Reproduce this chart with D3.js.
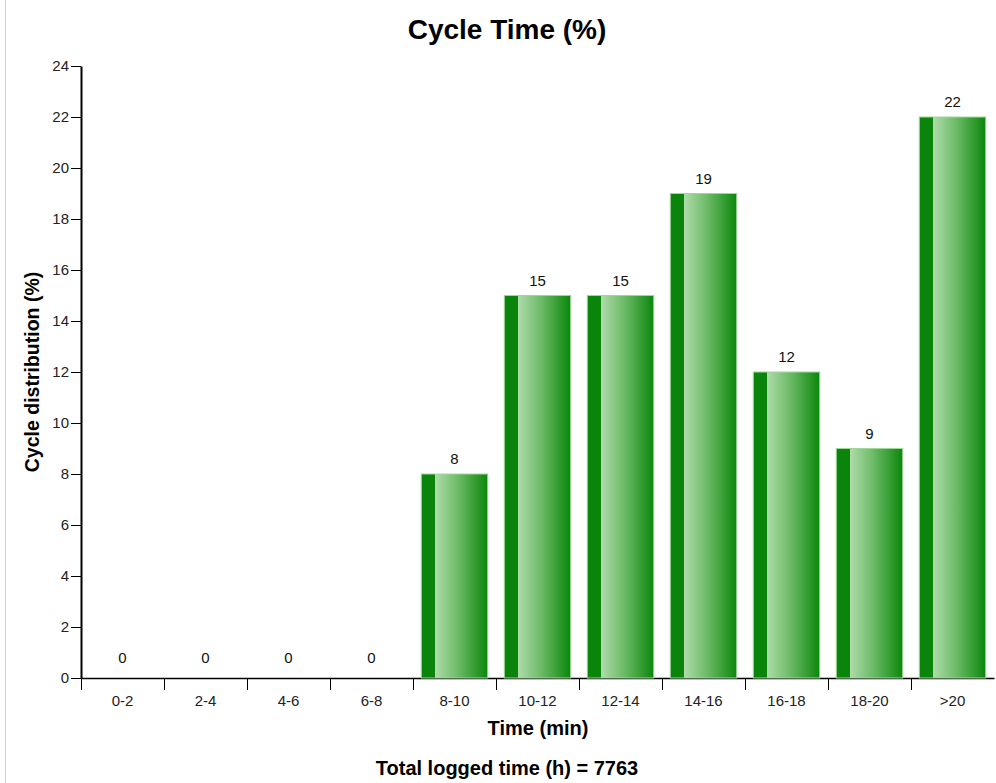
<!DOCTYPE html>
<html><head><meta charset="utf-8">
<script src="https://cdn.jsdelivr.net/npm/d3@7"></script>
<style>body{margin:0;background:#fff;}svg{display:block;font-family:"Liberation Sans",Arial,sans-serif;}</style>
</head><body>
<svg id="c" width="996" height="783"></svg>
<script>
const categories = ["0-2","2-4","4-6","6-8","8-10","10-12","12-14","14-16","16-18","18-20",">20"];
const values = [0,0,0,0,8,15,15,19,12,9,22];
const yTicks = [0,2,4,6,8,10,12,14,16,18,20,22,24];
const title = "Cycle Time (%)";
const xTitle = "Time (min)";
const yTitle = "Cycle distribution (%)";
const footer = "Total logged time (h) = 7763";

const svg = d3.select("#c");
svg.append("line").attr("x1",5.5).attr("x2",5.5).attr("y1",0).attr("y2",783).attr("stroke","#d0d0d0");

const defs = svg.append("defs");
const g = defs.append("linearGradient").attr("id","bg").attr("x1","0").attr("x2","1").attr("y1","0").attr("y2","0");
[[0,"#0b840b"],[0.2,"#0b840b"],[0.2,"#b0dcab"],[0.55,"#6dbb68"],[1,"#0b870b"]].forEach(([o,c])=>g.append("stop").attr("offset",o).attr("stop-color",c));

const x = d3.scaleBand().domain(categories).range([81,994]).paddingInner(0.2).paddingOuter(0.1);
const y = d3.scaleLinear().domain([0,24]).range([678,66]);

// y axis
const ya = svg.append("g").attr("transform","translate(81,0)")
  .call(d3.axisLeft(y).tickValues(yTicks).tickSize(10).tickSizeOuter(0).tickPadding(2));
ya.select(".domain").attr("stroke","#000").attr("stroke-width",2);
ya.selectAll("text").attr("font-size",15).attr("fill","#222").attr("font-family","Liberation Sans, Arial, sans-serif");

// x axis
const xa = svg.append("g").attr("transform","translate(0,678)")
  .call(d3.axisBottom(x).tickSize(0).tickPadding(17).tickSizeOuter(0));
xa.select(".domain").attr("stroke","#000").attr("stroke-width",1.5);
xa.selectAll("text").attr("font-size",15).attr("fill","#222").attr("font-family","Liberation Sans, Arial, sans-serif");
const step = x.step();
const bounds = categories.map(c => x(c) - step*x.paddingInner()/2);
svg.append("g").selectAll("line").data(bounds).join("line")
  .attr("x1",d=>d+0.5).attr("x2",d=>d+0.5).attr("y1",678).attr("y2",690)
  .attr("stroke","#000").attr("stroke-width",1);

// bars
svg.append("g").selectAll("rect").data(values).join("rect")
  .attr("x",(d,i)=>x(categories[i])).attr("width",x.bandwidth())
  .attr("y",d=>y(d)).attr("height",d=>y(0)-y(d))
  .attr("fill","url(#bg)").attr("stroke",d=>d>0?"#9fd69a":"none").attr("stroke-width",1);

svg.append("g").selectAll("text").data(values).join("text")
  .attr("x",(d,i)=>x(categories[i])+x.bandwidth()/2).attr("y",d=>y(d)-(d>0?10:15))
  .attr("text-anchor","middle").attr("font-size",15).attr("fill","#111").text(d=>d);

svg.append("text").attr("x",507).attr("y",39).attr("text-anchor","middle")
  .attr("font-size",28).attr("font-weight","bold").text(title);
svg.append("text").attr("x",538).attr("y",735).attr("text-anchor","middle")
  .attr("font-size",20).attr("font-weight","bold").text(xTitle);
svg.append("text").attr("x",507).attr("y",775).attr("text-anchor","middle")
  .attr("font-size",20).attr("font-weight","bold").text(footer);
svg.append("text").attr("transform","translate(39,372) rotate(-90)").attr("text-anchor","middle")
  .attr("font-size",19.5).attr("font-weight","bold").text(yTitle);
</script>
</body></html>
